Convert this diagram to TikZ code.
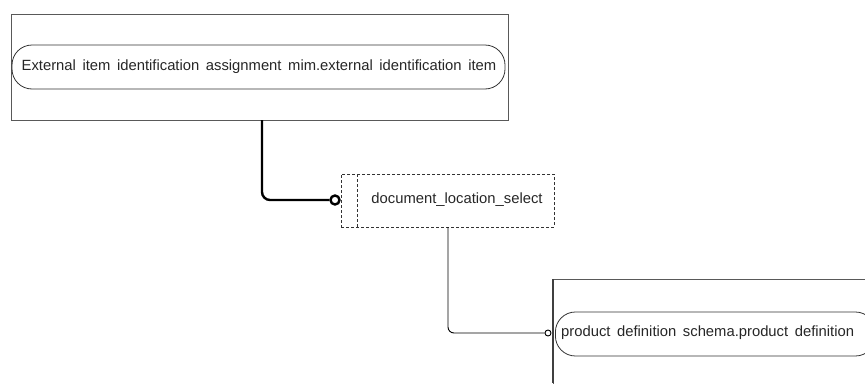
\documentclass[tikz,border=0pt]{standalone}
\usepackage{fontspec}
\setmainfont{Liberation Sans}
\begin{document}
\begin{tikzpicture}[x=1pt,y=-1pt,
  entbox/.style={draw=black!65,line width=1pt},
  pill/.style={draw=black!80,line width=0.8pt,rounded corners=20pt},
  lbl/.style={font=\fontsize{14.8}{16}\selectfont,text=black!85,inner sep=0pt},
  thickcon/.style={line width=2.4pt,rounded corners=8pt},
  thincon/.style={line width=0.9pt,rounded corners=6pt},
  dashbox/.style={draw=black!80,line width=0.9pt,dashed,dash pattern=on 3pt off 2pt}]
\useasboundingbox (0,0) rectangle (865,383);
\clip (0,0) rectangle (865,383);
% top entity
\draw[entbox] (11,14) rectangle (508,120);
\node[pill,minimum width=493pt,minimum height=44pt,inner sep=0pt] (topent) at (258.5,67) {};
\node[lbl] (toptext) at (259,67) {External\ \,item\ \,identification\ \,assignment\ \,mim.external\ \,identification\ \,item};
\coordinate (tdown) at (262,120);
% select box
\node[dashbox,minimum width=213pt,minimum height=53pt,inner sep=0pt] (sel) at (447.5,200.5) {};
\draw[dashbox] (357,174) -- (357,227);
\node[lbl] (seltext) at (457,200) {document\_location\_select};
% circle on thick line
\node[draw,circle,line width=2.4pt,minimum size=9pt,inner sep=0pt,fill=white] (c1) at (335,200) {};
\draw[thickcon] (tdown) |- (c1.west);
% bottom entity
\draw[entbox] (553,279) rectangle (880,400);
\draw[line width=1.8pt,black!75] (553,279) -- (553,383);
\node[pill,minimum width=320pt,minimum height=44pt,inner sep=0pt,anchor=west] (botent) at (555,334) {};
\node[lbl,anchor=west] (bottext) at (561,333) {product\ \,definition\ \,schema.product\ \,definition};
\node[draw,circle,line width=0.9pt,minimum size=6pt,inner sep=0pt,fill=white] (c2) at (548,333) {};
\coordinate (sdown) at (448,227);
\draw[thincon] (sdown) |- (c2.west);
\end{tikzpicture}
\end{document}
